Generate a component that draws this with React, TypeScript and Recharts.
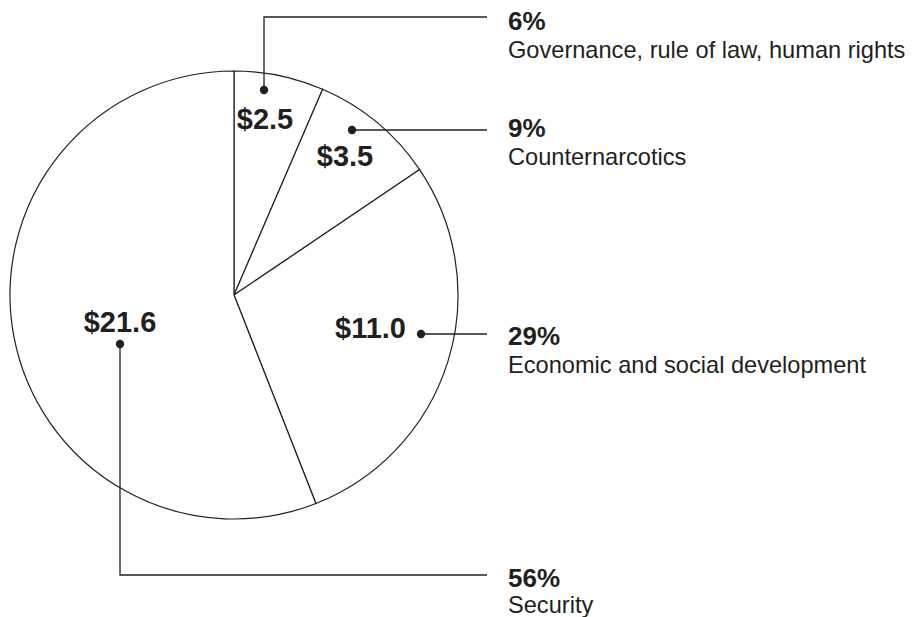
import { PieChart, Pie, Cell } from 'recharts'

const categories = [
    'Governance, rule of law, human rights',
    'Counternarcotics',
    'Economic and social development',
    'Security',
]
const amounts = [2.5, 3.5, 11.0, 21.6]
const shares = ['6%', '9%', '29%', '56%']

const INK = '#231f20'
const FONT = '"Liberation Sans", Arial, Helvetica, sans-serif'

// label placement relative to the pie centre (dot, elbow, value text, annotation baselines)
const layout = [
    { dot: [30, -205], elbowY: -278, valX: 31, valY: -166, anchor: 'middle', pctY: -265, nameY: -237 },
    { dot: [118, -165], elbowY: null, valX: 111, valY: -129, anchor: 'middle', pctY: -158, nameY: -130 },
    { dot: [187, 39], elbowY: null, valX: 172, valY: 43, anchor: 'end', pctY: 50, nameY: 78 },
    { dot: [-114, 49], elbowY: 280, valX: -114, valY: 37, anchor: 'middle', pctY: 292, nameY: 318 },
]
const LINE_END = 253
const TEXT_X = 274

const data = categories.map((name, i) => ({ name, value: amounts[i], share: shares[i] }))

function renderLabel(props: any) {
    const { cx, cy, index, value } = props
    const l = layout[index]
    const d = data[index]
    const dx = cx + l.dot[0]
    const dy = cy + l.dot[1]
    const lineY = l.elbowY === null ? dy : cy + l.elbowY
    const path =
        l.elbowY === null
            ? `M${dx},${dy} L${cx + LINE_END},${dy}`
            : `M${dx},${dy} L${dx},${lineY} L${cx + LINE_END},${lineY}`
    return (
        <g key={`lbl-${index}`}>
            <text
                x={cx + l.valX}
                y={cy + l.valY}
                textAnchor={l.anchor}
                fontFamily={FONT}
                fontWeight="bold"
                fontSize={29}
                fill={INK}>
                {`$${Number(value).toFixed(1)}`}
            </text>
            <path d={path} stroke={INK} strokeWidth={1.3} fill="none" />
            <circle cx={dx} cy={dy} r={4.2} fill={INK} />
            <text x={cx + TEXT_X} y={cy + l.pctY} fontFamily={FONT} fontWeight="bold" fontSize={26} fill={INK}>
                {d.share}
            </text>
            <text x={cx + TEXT_X} y={cy + l.nameY} fontFamily={FONT} fontSize={23.6} fill={INK}>
                {d.name}
            </text>
        </g>
    )
}

export default function App() {
    return (
        <div style={{ position: 'absolute', left: 0, top: 0, background: '#fff' }}>
            <PieChart width={923} height={617} margin={{ top: 0, right: 0, bottom: 0, left: 0 }}>
                <Pie
                    data={data}
                    dataKey="value"
                    nameKey="name"
                    cx={234}
                    cy={295}
                    outerRadius={224}
                    innerRadius={0}
                    startAngle={90}
                    endAngle={-270}
                    stroke={INK}
                    strokeWidth={1.2}
                    label={renderLabel}
                    labelLine={false}
                    isAnimationActive={false}>
                    {data.map((_, i) => (
                        <Cell key={i} fill="#ffffff" />
                    ))}
                </Pie>
            </PieChart>
        </div>
    )
}
